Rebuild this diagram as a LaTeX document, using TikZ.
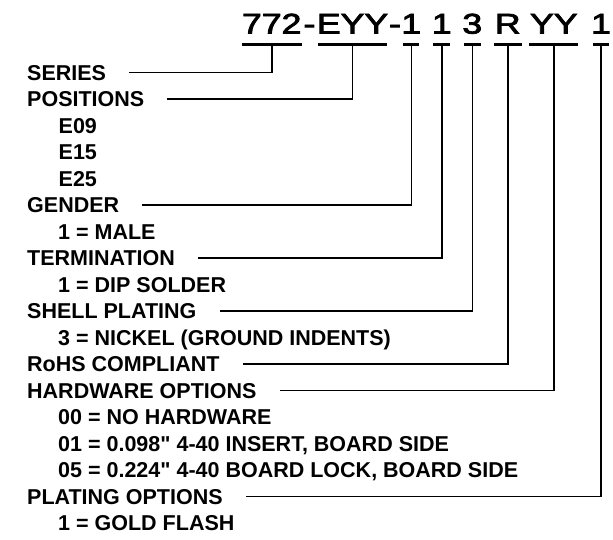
\documentclass[tikz,border=0pt]{standalone}
\usepackage{fontspec}
\setmainfont{Liberation Sans}[Ligatures=TeXOff]
\newfontfamily\titlefont{Liberation Sans}[Ligatures=TeXOff,FakeBold=2.5]
\begin{document}
\begin{tikzpicture}[x=1pt,y=-1pt,
  lab/.style={anchor=base west, inner sep=0pt, text height=15.4pt, text depth=0pt,
              font=\fontsize{21.5}{24}\selectfont\bfseries},
  code/.style={anchor=base, inner sep=0pt, text depth=11pt,
              font=\titlefont\fontsize{28.5}{30}\selectfont},
  ul/.style={line width=3.3pt},
  conn/.style={line width=1.6pt, shorten >=23pt}]
\useasboundingbox (0,0) rectangle (613,539);

% title code
\node[code] (c772) at (271.7,33.6) {\scalebox{1.25}[1]{772}};
\node[code] (h1)   at (309.5,33.6) {\scalebox{1.25}[1]{-}};
\node[code] (ceyy) at (352.5,33.6) {\scalebox{1.25}[1]{EYY}};
\node[code] (h2)   at (395.0,33.6) {\scalebox{1.25}[1]{-}};
\node[code] (cga)  at (411.3,33.6) {\scalebox{1.25}[1]{1}};
\node[code] (cte)  at (441.7,33.6) {\scalebox{1.25}[1]{1}};
\node[code] (csh)  at (472.3,33.6) {\scalebox{1.25}[1]{3}};
\node[code] (cro)  at (507.8,33.6) {\scalebox{1.25}[1]{R}};
\node[code] (chw)  at (553.8,33.6) {\scalebox{1.25}[1]{YY}};
\node[code] (cpl)  at (601.0,33.6) {\scalebox{1.25}[1]{1}};

\draw[ul] ([xshift=-30pt]c772.south) -- ([xshift=30pt]c772.south);
\draw[ul] ([xshift=-34.2pt]ceyy.south) -- ([xshift=34.2pt]ceyy.south);
\draw[ul] ([xshift=-8pt]cga.south) -- ([xshift=8pt]cga.south);
\draw[ul] ([xshift=-8.3pt]cte.south) -- ([xshift=8.3pt]cte.south);
\draw[ul] ([xshift=-8.3pt]csh.south) -- ([xshift=8.3pt]csh.south);
\draw[ul] ([xshift=-13.8pt]cro.south) -- ([xshift=13.8pt]cro.south);
\draw[ul] ([xshift=-24.5pt]chw.south) -- ([xshift=24.5pt]chw.south);
\draw[ul] ([xshift=-8.3pt]cpl.south) -- ([xshift=8.3pt]cpl.south);

% labels (baseline = 80.2 + 26.5*i)
\node[lab] (series) at (27,80.2)  {SERIES};
\node[lab] (pos)    at (27,106.7) {POSITIONS};
\node[lab] (e09)    at (58.5,133.2) {E09};
\node[lab] (e15)    at (58.5,159.7) {E15};
\node[lab] (e25)    at (58.5,186.2) {E25};
\node[lab] (gender) at (27,212.7) {GENDER};
\node[lab] (male)   at (58,239.2) {1 = MALE};
\node[lab] (term)   at (27,265.7) {TERMINATION};
\node[lab] (dip)    at (58,292.2) {1 = DIP SOLDER};
\node[lab] (shell)  at (27,318.7) {SHELL PLATING};
\node[lab] (nickel) at (58,345.2) {3 = NICKEL (GROUND INDENTS)};
\node[lab] (rohs)   at (27,371.7) {RoHS COMPLIANT};
\node[lab] (hw)     at (27,398.2) {HARDWARE OPTIONS};
\node[lab] (hw0)    at (58,424.7) {00 = NO HARDWARE};
\node[lab] (hw1)    at (58,451.2) {01 = 0.098" 4-40 INSERT, BOARD SIDE};
\node[lab] (hw5)    at (58,477.7) {05 = 0.224" 4-40 BOARD LOCK, BOARD SIDE};
\node[lab] (plat)   at (27,504.2) {PLATING OPTIONS};
\node[lab] (gold)   at (58,530.7) {1 = GOLD FLASH};

% connectors
\draw[conn] (c772.south) |- (series.east);
\draw[conn] (ceyy.south) |- (pos.east);
\draw[conn] (cga.south)  |- (gender.east);
\draw[conn] (cte.south)  |- (term.east);
\draw[conn] (csh.south)  |- (shell.east);
\draw[conn] (cro.south)  |- (rohs.east);
\draw[conn] (chw.south)  |- (hw.east);
\draw[conn] (cpl.south)  |- (plat.east);
\end{tikzpicture}
\end{document}
